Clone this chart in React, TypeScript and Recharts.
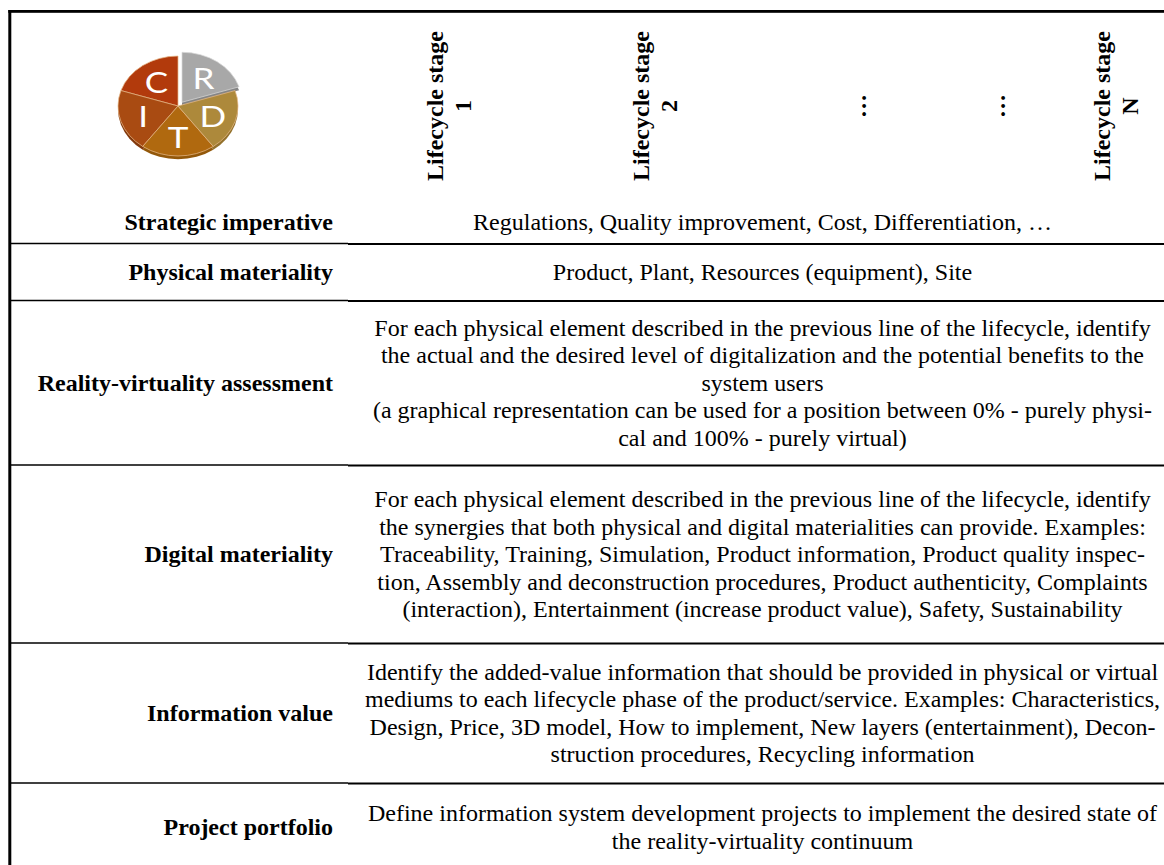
import { PieChart, Pie, Cell } from "recharts";

// CRIDT logo slices (five equal parts, R pulled out)
const PIE_NAMES = ["C", "I", "T", "D", "R"];
const PIE_VALUES = [1, 1, 1, 1, 1];
const PIE_COLORS = ["#b23a0c", "#a94b12", "#b0690f", "#ad893b", "#a8a8a8"];
const RIM_COLORS = ["#8a2e08", "#83390c", "#93580a", "#93712c", "#858585"];
const EXPLODED = "R";

const HEADER_LINES = [
  ["Lifecycle stage", "1"],
  ["Lifecycle stage", "2"],
  ["…"],
  ["…"],
  ["Lifecycle stage", "N"],
];

const ROW_LABELS = [
  "Strategic imperative",
  "Physical materiality",
  "Reality-virtuality assessment",
  "Digital materiality",
  "Information value",
  "Project portfolio",
];

const ROW_TEXT = [
  ["Regulations, Quality improvement, Cost, Differentiation, …"],
  ["Product, Plant, Resources (equipment), Site"],
  [
    "For each physical element described in the previous line of the lifecycle, identify",
    "the actual and the desired level of digitalization and the potential benefits to the",
    "system users",
    "(a graphical representation can be used for a position between 0% - purely physi-",
    "cal and 100% - purely virtual)",
  ],
  [
    "For each physical element described in the previous line of the lifecycle, identify",
    "the synergies that both physical and digital materialities can provide. Examples:",
    "Traceability, Training, Simulation, Product information, Product quality inspec-",
    "tion, Assembly and deconstruction procedures, Product authenticity, Complaints",
    "(interaction), Entertainment (increase product value), Safety, Sustainability",
  ],
  [
    "Identify the added-value information that should be provided in physical or virtual",
    "mediums to each lifecycle phase of the product/service. Examples: Characteristics,",
    "Design, Price, 3D model, How to implement, New layers (entertainment), Decon-",
    "struction procedures, Recycling information",
  ],
  [
    "Define information system development projects to implement the desired state of",
    "the reality-virtuality continuum",
  ],
];

// layout
const W = 1164;
const H = 865;
const FONT = '"Liberation Serif", "Times New Roman", serif';
const FS = 24;
const LH = 27.5;
const BASE_SHIFT = 8.1; // baseline offset from the vertical centre of a line
const LABEL_RIGHT = 333;
const TEXT_CENTER = 762.5;
const SPLIT_X = 348;
const HEADER_X = [443, 649, 866, 1005, 1110];
const HEADER_MID_Y = 106;
const ROW_EDGES = [243.5, 300.5, 465, 643, 783, 871];
const HEADER_BASELINE = 230;

const data = PIE_NAMES.map((name, i) => ({ name, value: PIE_VALUES[i] }));
const RAD = Math.PI / 180;

const pieLabel = (only: (n: string) => boolean) => (props: any) => {
  const name = props.payload?.name ?? props.name;
  if (!only(name)) return null;
  const r = props.outerRadius * 0.61;
  const x = props.cx + r * Math.cos(-props.midAngle * RAD);
  const y = props.cy + r * Math.sin(-props.midAngle * RAD);
  return (
    <text
      x={x}
      y={y}
      fill="#ffffff"
      textAnchor="middle"
      dominantBaseline="central"
      fontFamily="Lato, 'Open Sans', sans-serif"
      fontSize={35}
    >
      {name}
    </text>
  );
};

const Logo = () => {
  const cx = 70;
  const cy = 70;
  const dx = 4;
  const dy = -4.5;
  const R = 60;
  const common = {
    data,
    dataKey: "value",
    nameKey: "name",
    startAngle: 90,
    endAngle: 450,
    outerRadius: R,
    isAnimationActive: false,
    labelLine: false,
  };
  return (
    <div
      style={{
        position: "absolute",
        left: 108,
        top: 36,
        width: 140,
        height: 140,
        transform: "scaleY(0.833)",
        transformOrigin: "50% 50%",
      }}
    >
      <PieChart width={140} height={140} margin={{ top: 0, right: 0, bottom: 0, left: 0 }}>
        <Pie {...common} cx={cx} cy={cy + 4} label={false}>
          {data.map((d, i) => (
            <Cell key={i} fill={d.name === EXPLODED ? "transparent" : RIM_COLORS[i]} stroke="none" />
          ))}
        </Pie>
        <Pie {...common} cx={cx + dx} cy={cy + dy + 4} label={false}>
          {data.map((d, i) => (
            <Cell key={i} fill={d.name === EXPLODED ? RIM_COLORS[i] : "transparent"} stroke="none" />
          ))}
        </Pie>
        <Pie {...common} cx={cx} cy={cy} label={pieLabel((n) => n !== EXPLODED)}>
          {data.map((d, i) => (
            <Cell
              key={i}
              fill={d.name === EXPLODED ? "transparent" : PIE_COLORS[i]}
              stroke={d.name === EXPLODED ? "none" : "#e7b98a"}
              strokeWidth={0.8}
            />
          ))}
        </Pie>
        <Pie {...common} cx={cx + dx} cy={cy + dy} label={pieLabel((n) => n === EXPLODED)}>
          {data.map((d, i) => (
            <Cell
              key={i}
              fill={d.name === EXPLODED ? PIE_COLORS[i] : "transparent"}
              stroke={d.name === EXPLODED ? "#d8d8d8" : "none"}
              strokeWidth={0.8}
            />
          ))}
        </Pie>
      </PieChart>
    </div>
  );
};

export default function App() {
  const rows = ROW_LABELS.map((label, r) => {
    const lines = ROW_TEXT[r];
    let center: number;
    if (r === 0) {
      center = HEADER_BASELINE - BASE_SHIFT;
    } else {
      center = (ROW_EDGES[r - 1] + ROW_EDGES[r]) / 2;
    }
    const n = lines.length;
    return (
      <g key={r}>
        <text
          x={LABEL_RIGHT}
          y={center + BASE_SHIFT}
          textAnchor="end"
          fontWeight="bold"
          fontSize={FS}
          fontFamily={FONT}
        >
          {label}
        </text>
        {lines.map((ln, i) => (
          <text
            key={i}
            x={TEXT_CENTER}
            y={center + (i - (n - 1) / 2) * LH + BASE_SHIFT}
            textAnchor="middle"
            fontSize={FS}
            fontFamily={FONT}
          >
            {ln}
          </text>
        ))}
      </g>
    );
  });

  return (
    <div
      style={{
        position: "fixed",
        left: 0,
        top: 0,
        width: W,
        height: H,
        background: "#ffffff",
        overflow: "hidden",
      }}
    >
      <svg width={W} height={H} style={{ position: "absolute", left: 0, top: 0 }}>
        <rect x={8.3} y={10} width={W - 8.3} height={2.8} fill="#000" />
        <rect x={8.3} y={10} width={3} height={H} fill="#000" />
        {ROW_EDGES.slice(0, -1).map((y, i) => (
          <g key={i}>
            <line x1={11} x2={SPLIT_X} y1={y} y2={y} stroke="#000" strokeWidth={1.3} />
            <line x1={SPLIT_X} x2={W} y1={y + 0.5} y2={y + 0.5} stroke="#000" strokeWidth={2.2} />
          </g>
        ))}
        {HEADER_LINES.map((lines, c) =>
          lines.map((ln, i) => {
            const x = HEADER_X[c] + i * 28;
            return (
              <text
                key={`${c}-${i}`}
                x={x}
                y={HEADER_MID_Y}
                transform={`rotate(-90 ${x} ${HEADER_MID_Y})`}
                textAnchor="middle"
                fontWeight="bold"
                fontSize={FS}
                fontFamily={FONT}
              >
                {ln}
              </text>
            );
          })
        )}
        {rows}
      </svg>
      <Logo />
    </div>
  );
}
